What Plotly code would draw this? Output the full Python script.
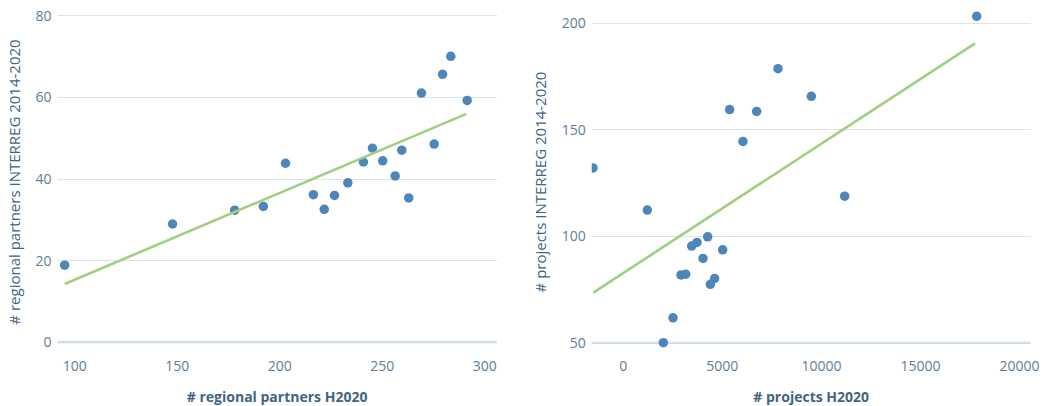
import plotly.graph_objects as go

# ---- Left chart: regional partners ----
partners_h2020 = [95.1, 147.7, 178.0, 192.0, 202.8, 216.4, 221.7, 226.7, 233.2, 240.8,
                  245.2, 250.2, 256.3, 259.5, 262.9, 269.1, 275.3, 279.4, 283.4, 291.4]
partners_interreg = [18.9, 29.0, 32.4, 33.3, 43.9, 36.2, 32.6, 36.0, 39.1, 44.2,
                     47.6, 44.5, 40.8, 47.1, 35.4, 61.1, 48.6, 65.7, 70.1, 59.3]
partners_trend_x = [95.1, 291.0]
partners_trend_y = [14.3, 56.0]

# ---- Right chart: projects ----
projects_h2020 = [-1524, 1217, 2025, 2513, 2917, 3153, 3455, 3724, 4026, 4262,
                  4397, 4613, 5020, 5371, 6044, 6734, 7810, 9491, 11175, 17835]
projects_interreg = [132.1, 112.3, 50.0, 61.7, 81.8, 82.2, 95.4, 97.1, 89.6, 99.7,
                     77.4, 80.2, 93.6, 159.5, 144.5, 158.6, 178.7, 165.7, 118.8, 203.3]
projects_trend_x = [-1509, 17750]
projects_trend_y = [73.5, 190.6]

left_xticks = [100, 150, 200, 250, 300]
left_yticks = [0, 20, 40, 60, 80]
right_xticks = [0, 5000, 10000, 15000, 20000]
right_yticks = [50, 100, 150, 200]

DOT = "#4f86ba"
LINE = "#9fd07f"
TICK = "#5d7d98"
TITLE = "#3f6584"
GRID = "#d9e4ee"
BASE = "#b7cde0"
FONT = "Open Sans"

fig = go.Figure()

fig.add_trace(go.Scatter(x=partners_h2020, y=partners_interreg, mode="markers",
                         marker=dict(color=DOT, size=9.5), xaxis="x", yaxis="y",
                         showlegend=False))
fig.add_trace(go.Scatter(x=partners_trend_x, y=partners_trend_y, mode="lines",
                         line=dict(color=LINE, width=2.6),
                         xaxis="x", yaxis="y", showlegend=False))

fig.add_trace(go.Scatter(x=projects_h2020, y=projects_interreg, mode="markers",
                         marker=dict(color=DOT, size=9.5), xaxis="x2", yaxis="y2",
                         showlegend=False))
fig.add_trace(go.Scatter(x=projects_trend_x, y=projects_trend_y, mode="lines",
                         line=dict(color=LINE, width=2.6),
                         xaxis="x2", yaxis="y2", showlegend=False))

W, H = 1045, 406
top_px, bot_px = 8, 356
ydom = [1 - bot_px / H, 1 - top_px / H]

common_x = dict(showgrid=False, zeroline=False, showline=False, ticks="",
                tickformat="d",
                tickfont=dict(family=FONT, size=14, color=TICK),
                title_font=dict(family=FONT, size=14, color=TITLE),
                automargin=False)
common_y = dict(showgrid=True, gridcolor=GRID, gridwidth=1, zeroline=False,
                showline=False, ticks="", ticklabelstandoff=5,
                tickfont=dict(family=FONT, size=14, color=TICK),
                title_font=dict(family=FONT, size=15, color=TITLE),
                automargin=False)

fig.update_layout(
    width=W, height=H,
    margin=dict(l=0, r=0, t=0, b=0),
    plot_bgcolor="white", paper_bgcolor="white",
    xaxis=dict(domain=[57.5 / W, 496.7 / W], range=[91.6, 305.8],
               tickvals=left_xticks, anchor="y",
               title=dict(text="<b># regional partners H2020</b>", standoff=18),
               **common_x),
    yaxis=dict(domain=ydom, range=[-3.36, 81.96], tickvals=left_yticks, anchor="x",
               title=dict(text="# regional partners INTERREG 2014-2020", standoff=11),
               **common_y),
    xaxis2=dict(domain=[591.7 / W, 1030.7 / W], range=[-1589, 20560],
                tickvals=right_xticks, anchor="y2",
                title=dict(text="<b># projects H2020</b>", standoff=18),
                **common_x),
    yaxis2=dict(domain=ydom, range=[43.75, 207.19], tickvals=right_yticks, anchor="x2",
                title=dict(text="# projects INTERREG 2014-2020", standoff=11),
                **common_y),
)

fig.add_shape(type="line", xref="x domain", yref="y", x0=0, x1=1, y0=0, y1=0,
              line=dict(color=BASE, width=2), layer="below")
fig.add_shape(type="line", xref="x2 domain", yref="y2", x0=0, x1=1, y0=50, y1=50,
              line=dict(color=BASE, width=2), layer="below")

fig.write_html("out.html", config={"displayModeBar": False},
               post_script="document.body.style.margin='0';")
